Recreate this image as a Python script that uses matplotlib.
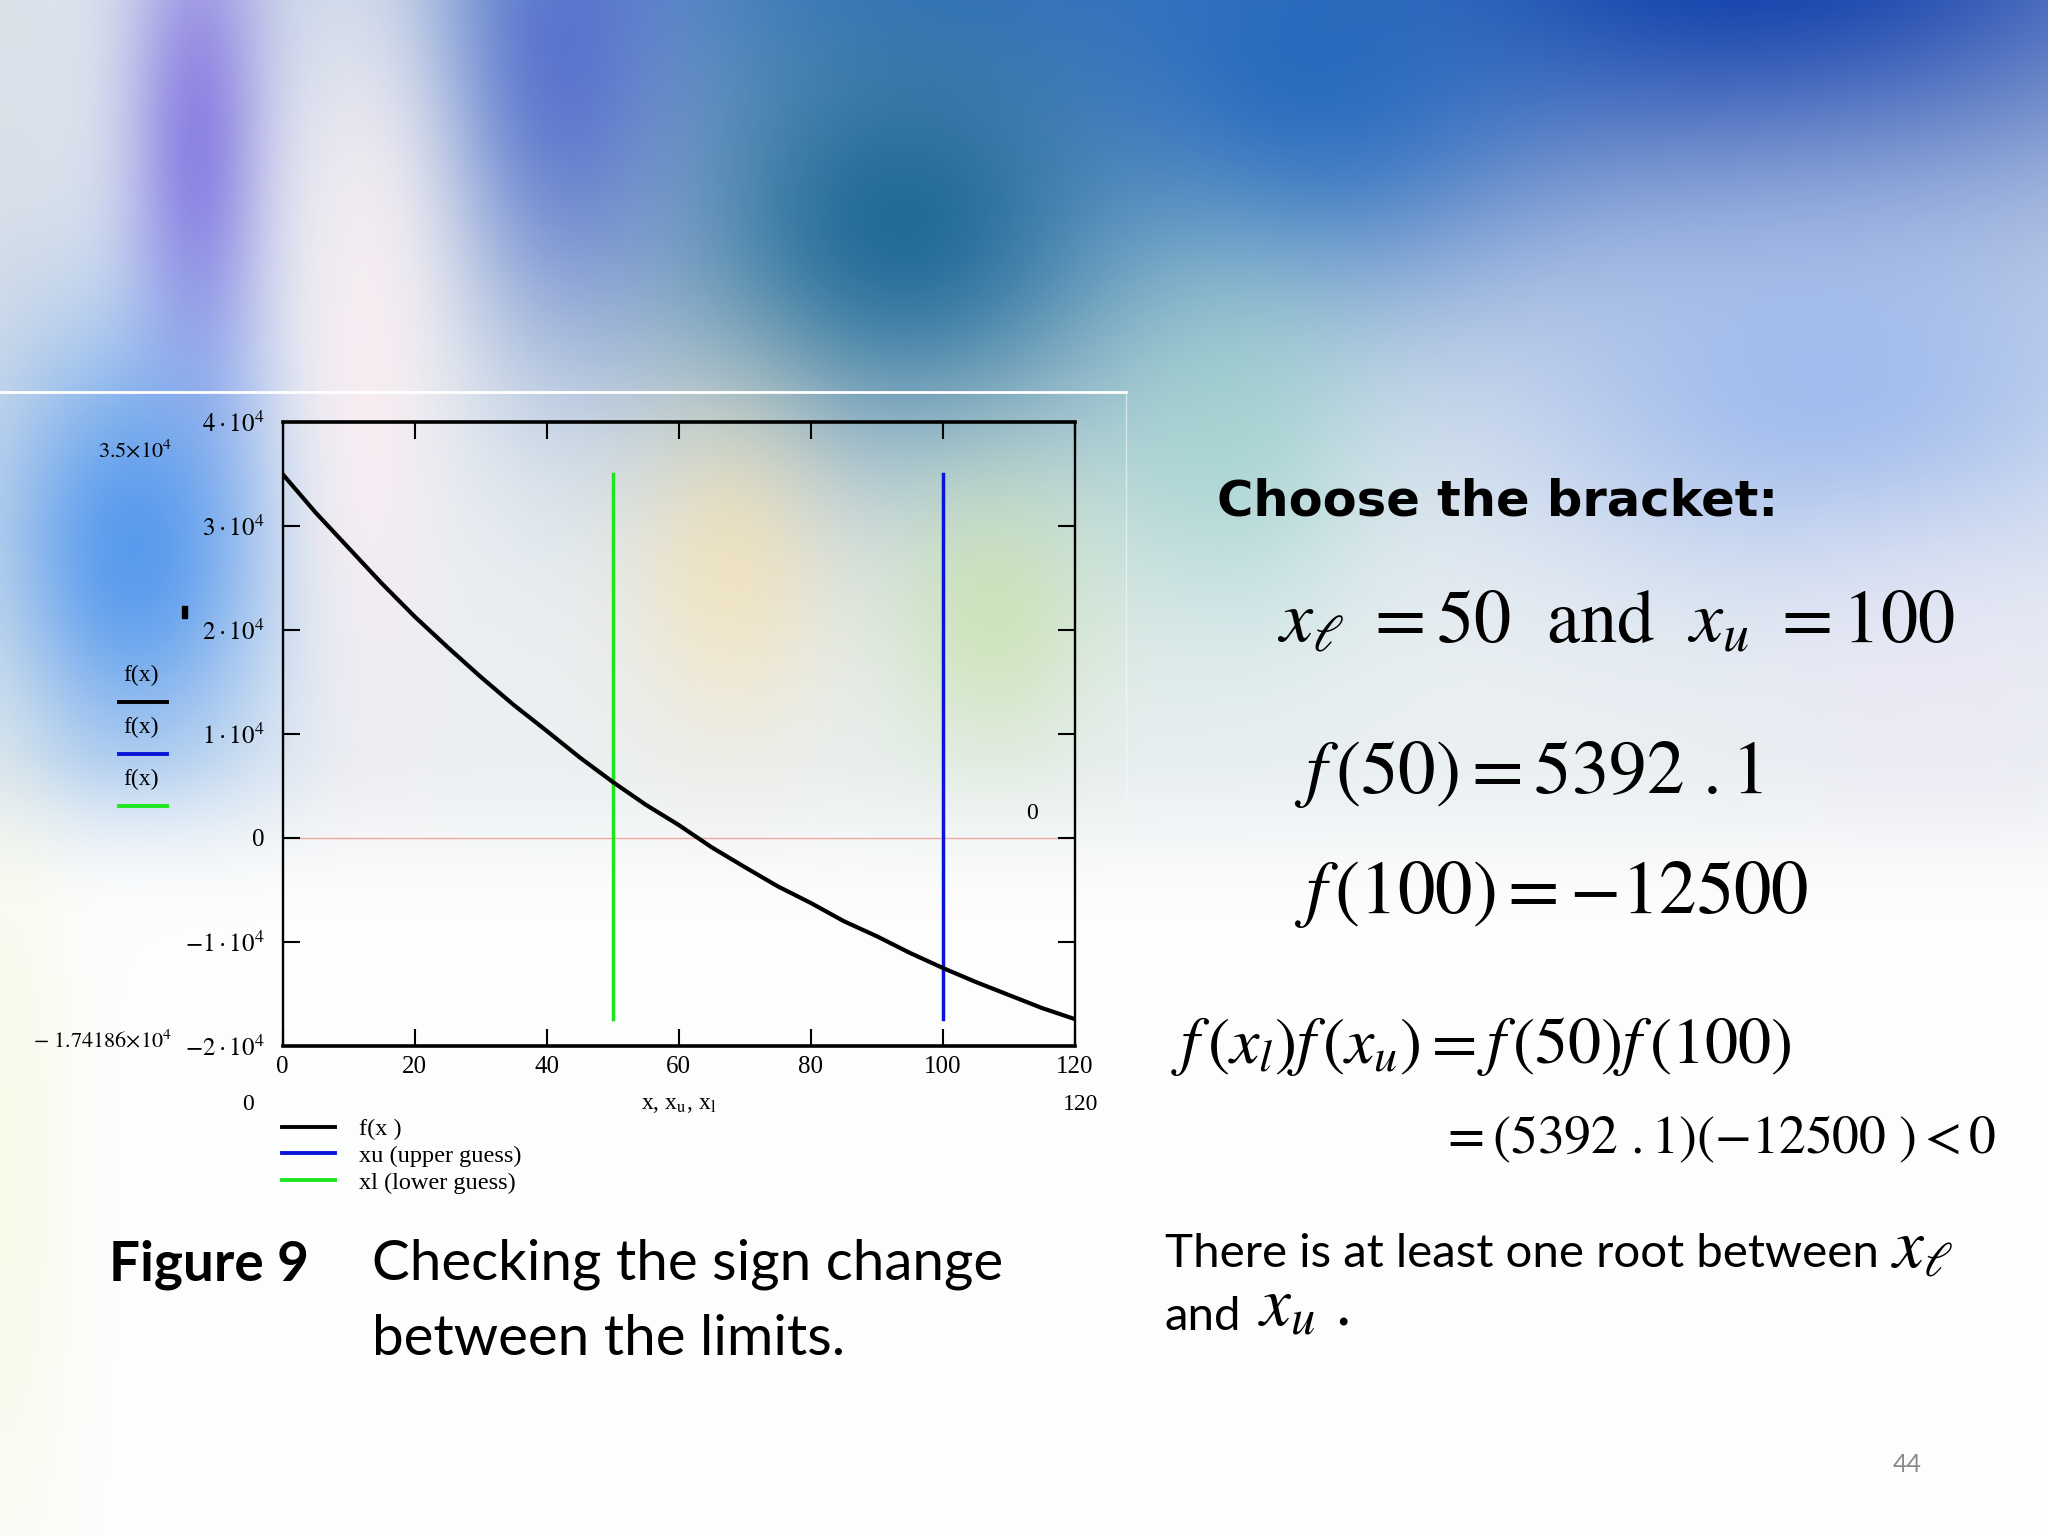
import numpy as np
import matplotlib
matplotlib.use("Agg")
import matplotlib.pyplot as plt
from matplotlib.lines import Line2D
from matplotlib.patches import Rectangle

# ---------------- data ----------------
x_vals = [0, 5, 10, 15, 20, 25, 30, 35, 40, 45, 50, 55, 60, 65, 70, 75, 80,
          85, 90, 95, 100, 105, 110, 115, 120]
f_vals = [35000, 31300, 27900, 24500, 21300, 18350, 15500, 12800, 10300,
          7750, 5392.1, 3200, 1250, -900, -2800, -4650, -6250, -8000, -9450,
          -11050, -12500, -13850, -15100, -16350, -17418.6]
x_lower = 50
x_upper = 100
x_ticks = [0, 20, 40, 60, 80, 100, 120]
x_tick_labels = ["0", "20", "40", "60", "80", "100", "120"]
y_ticks = [-20000, -10000, 0, 10000, 20000, 30000, 40000]
y_tick_labels = [r"$-2\cdot10^{4}$", r"$-1\cdot10^{4}$", "0",
                 r"$1\cdot10^{4}$", r"$2\cdot10^{4}$", r"$3\cdot10^{4}$",
                 r"$4\cdot10^{4}$"]
legend_labels = ["f(x )", "xu (upper guess)", "xl (lower guess)"]
side_legend_labels = ["f(x)", "f(x)", "f(x)"]
series_colors = ["#000000", "#0a14d8", "#1ee61e"]

W, H = 2048, 1536
plt.rcParams["mathtext.fontset"] = "stix"
plt.rcParams["font.family"] = ["Liberation Serif", "DejaVu Sans"]

fig = plt.figure(figsize=(W / 100, H / 100), dpi=100)
renderer = fig.canvas.get_renderer()

# ---------------- decorative slide background ----------------
gw, gh = 392, 294
gx, gy = np.meshgrid(np.linspace(0, 1568, gw), np.linspace(0, 1176, gh))
img = np.ones((gh, gw, 3)) * np.array([0.92, 0.94, 0.95])
blobs = [
    ((0.86, 0.88, 0.91), 0, 150, 70, 320, 0.9),
    ((0.04, 0.22, 0.66), 1320, -60, 480, 230, 1.0),
    ((0.20, 0.45, 0.76), 720, -40, 380, 150, 0.92),
    ((0.10, 0.40, 0.58), 690, 170, 210, 180, 0.95),
    ((0.32, 0.42, 0.80), 430, 40, 90, 200, 0.85),
    ((0.12, 0.40, 0.74), 1000, 60, 170, 160, 0.85),
    ((0.52, 0.47, 0.88), 150, 110, 55, 200, 0.9),
    ((0.30, 0.58, 0.93), 100, 420, 110, 170, 0.92),
    ((0.97, 0.93, 0.95), 280, 300, 60, 300, 0.95),
    ((0.58, 0.70, 0.93), 1400, 300, 240, 140, 0.8),
    ((0.58, 0.82, 0.78), 940, 330, 110, 150, 0.6),
    ((0.76, 0.88, 0.62), 760, 470, 80, 110, 0.6),
    ((0.99, 0.88, 0.64), 560, 430, 80, 130, 0.55),
    ((0.93, 0.90, 0.97), 1480, 530, 120, 120, 0.5),
]
for col, cx, cy, sx, sy, a in blobs:
    m = a * np.exp(-((gx - cx) / sx) ** 2 - ((gy - cy) / sy) ** 2)
    img = img * (1 - m[..., None]) + np.array(col) * m[..., None]
t = np.clip((gy - 570) / 140.0, 0, 1)
m = 0.96 * t * t * (3 - 2 * t)
img = img * (1 - m[..., None]) + np.array([0.995, 0.995, 0.995]) * m[..., None]
m = 0.6 * np.exp(-((gx - 0) / 50) ** 2 - ((gy - 900) / 300) ** 2)
img = img * (1 - m[..., None]) + np.array([0.96, 0.97, 0.86]) * m[..., None]

bg = fig.add_axes([0, 0, 1, 1], zorder=-10)
bg.imshow(img, extent=[0, 1, 0, 1], aspect="auto", interpolation="bilinear")
bg.axis("off")

# frame left over from the pasted picture
fig.add_artist(Line2D([0, 1126 / W], [1 - 392 / H, 1 - 392 / H],
                      color="white", lw=2, transform=fig.transFigure))
fig.add_artist(Line2D([1126 / W, 1126 / W], [1 - 392 / H, 1 - 800 / H],
                      color="white", lw=1, alpha=0.5, transform=fig.transFigure))

# ---------------- chart ----------------
ax = fig.add_axes([282.5 / W, 1 - 1046 / H, (1075 - 282.5) / W, (1046 - 422) / H])
ax.patch.set_alpha(0)
ax.set_xlim(0, 120)
ax.set_ylim(-20000, 40000)

ax.axhline(0, color="#f0a8a0", lw=1.0, zorder=1)
l_f, = ax.plot(x_vals, f_vals, color=series_colors[0], lw=3.0, zorder=3,
               solid_joinstyle="round")
ymin, ymax = min(f_vals), max(f_vals)
l_u, = ax.plot([x_upper, x_upper], [ymin, ymax], color=series_colors[1], lw=2.5, zorder=2)
l_l, = ax.plot([x_lower, x_lower], [ymin, ymax], color=series_colors[2], lw=2.5, zorder=2)
ax.text(113.5, 1300, "0", fontsize=17, ha="center", va="bottom")

for side in ["top", "bottom"]:
    ax.spines[side].set_linewidth(2.6)
for side in ["left", "right"]:
    ax.spines[side].set_linewidth(1.7)

ax.set_xticks(x_ticks)
ax.set_xticklabels(x_tick_labels)
ax.set_yticks(y_ticks)
ax.set_yticklabels(y_tick_labels)
ax.tick_params(axis="both", direction="in", length=12, width=1.5,
               top=True, right=True, labelsize=18)
ax.tick_params(axis="x", pad=7)
ax.tick_params(axis="y", pad=13)

ax.set_xlabel(r"x, x$_{\mathrm{u}}$, x$_{\mathrm{l}}$", fontsize=17, labelpad=12)

leg = ax.legend([l_f, l_u, l_l], legend_labels, loc="upper left",
                bbox_to_anchor=(282 / W, 1 - 1118 / H),
                bbox_transform=fig.transFigure, frameon=False, fontsize=17.5,
                handlelength=2.2, handletextpad=0.95, labelspacing=0.2,
                borderpad=0, borderaxespad=0)
for h in leg.legend_handles:
    h.set_linewidth(2.8)

# Mathcad side labels
fig.text(98 / W, 1 - 451 / H, r"$3.5{\times}10^{4}$", fontsize=16, va="center")
fig.text(33 / W, 1 - 1041 / H, r"$-\ 1.74186{\times}10^{4}$", fontsize=16, va="center")
fig.text(248 / W, 1 - 1104 / H, "0", fontsize=17, ha="center", va="center")
fig.text(1081 / W, 1 - 1104 / H, "120", fontsize=17, ha="center", va="center")
fig.add_artist(Rectangle((182 / W, 1 - 618 / H), 5 / W, 12 / H, color="black",
                         transform=fig.transFigure))

ys = [675, 727, 779]
for lab, col, yy in zip(side_legend_labels, series_colors, ys):
    fig.text(141 / W, 1 - yy / H, lab, fontsize=17, ha="center", va="center")
    fig.add_artist(Line2D([119 / W, 167 / W], [1 - (yy + 27) / H] * 2,
                          color=col, lw=2.8, transform=fig.transFigure))


def fit_text(x_px, y_px, s, width_px, **kw):
    txt = fig.text(x_px / W, 1 - y_px / H, s, fontsize=30, **kw)
    bb = txt.get_window_extent(renderer)
    txt.set_fontsize(30 * width_px / bb.width)
    return txt


# ---------------- right-hand text ----------------
fit_text(1217, 501, "Choose the bracket:", 562, fontweight="bold",
         family="DejaVu Sans", va="center")
fit_text(1277, 643, r"$x_{\ell}\ =50\ \ \mathrm{and}\ \ x_{u}\ =100$", 679,
         va="baseline")
fit_text(1294, 793, r"$f\,(50)=5392\ .1$", 471, va="baseline")
fit_text(1294, 913, r"$f\,(100)=-12500$", 516, va="baseline")
fit_text(1171, 1063, r"$f\,(x_{l})f\,(x_{u})=f\,(50)f\,(100)$", 621, va="baseline")
fit_text(1440, 1153, r"$=(5392\ .1)(-12500\ )<0$", 556, va="baseline")

t1 = fit_text(1165, 1267, "There is at least one root between", 712,
              family="Lato", va="baseline")
body_size = t1.get_fontsize()
fig.text(1891 / W, 1 - 1267 / H, r"$x_{\ell}$", fontsize=50, va="baseline")
fig.text(1165 / W, 1 - 1330 / H, "and", fontsize=body_size, family="Lato",
         va="baseline")
fig.text(1258 / W, 1 - 1325 / H, r"$x_{u}\ .$", fontsize=50, va="baseline")

# ---------------- caption ----------------
fit_text(109, 1280, "Figure 9", 200, family="Lato", fontweight="bold",
         va="baseline")
t2 = fit_text(372, 1280, "Checking the sign change", 631, family="Lato",
              va="baseline")
fig.text(372 / W, 1 - 1355 / H, "between the limits.", fontsize=t2.get_fontsize(),
         family="Lato", va="baseline")

fig.text(1907 / W, 1 - 1465 / H, "44", fontsize=18, color="#8a8a8a",
         family="Lato", ha="center", va="center")

fig.savefig("out.png", dpi=100)
